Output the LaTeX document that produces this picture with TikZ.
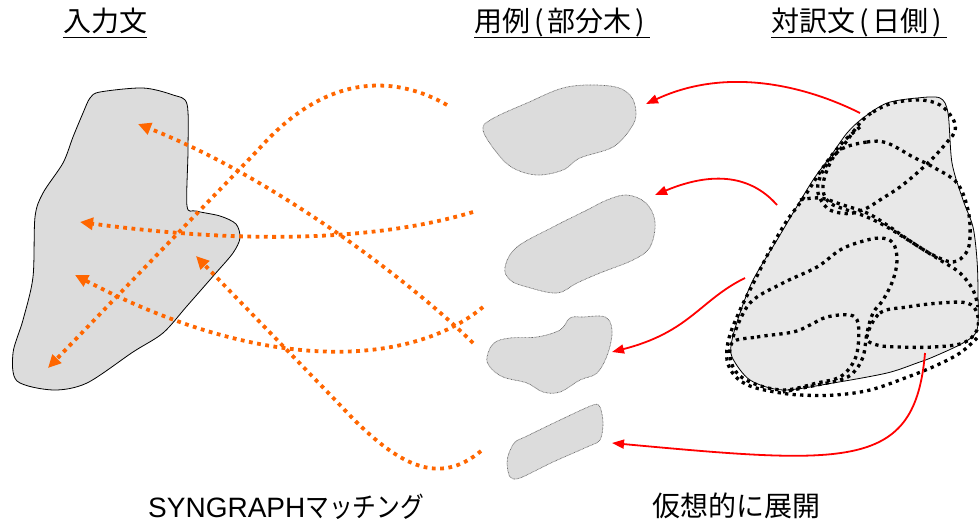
\documentclass[tikz,border=0pt]{standalone}
\usepackage{fontspec}
\setmainfont{Liberation Sans}
\newfontfamily\jp{Noto Sans CJK JP}
\newfontfamily\jpn[FakeStretch=0.85]{Noto Sans CJK JP}
\usetikzlibrary{arrows.meta}
\definecolor{orng}{RGB}{255,102,0}
\definecolor{blobgray}{RGB}{220,220,220}
\definecolor{rblob}{RGB}{232,232,232}
\begin{document}
\begin{tikzpicture}[x=1pt,y=-1pt,
  title/.style={inner sep=0pt, anchor=base, font=\jp\fontsize{28}{30}\selectfont},
  label/.style={inner sep=0pt, anchor=base west, font=\fontsize{28}{30}\selectfont},
  uline/.style={line width=1.8pt},
  lblob/.style={fill=blobgray, draw=black, line width=0.8pt},
  mblob/.style={fill=blobgray, draw=black!60, line width=0.7pt, dash pattern=on 0.7pt off 0.7pt},
  rblobst/.style={fill=rblob, draw=black, line width=0.8pt},
  bdot/.style={draw=black, line width=3.3pt, dash pattern=on 3.3pt off 4.2pt},
  oarrow/.style={draw=orng, line width=3.8pt, dash pattern=on 3.8pt off 4.5pt,
     -{Triangle[length=13pt,width=12pt]}},
  rarrow/.style={draw=red, line width=1.8pt, -{Triangle[length=12pt,width=9pt]}},
]
\useasboundingbox (0,0) rectangle (979,524);

% titles
\node[title] (t1) at (105,32) {入力文};
\node[title] (t2) at (562,32) {用例\kern4pt(\kern4pt部分木\kern4pt)\kern4pt};
\node[title] (t3) at (859,32) {対訳文\kern4pt(\kern4pt日側\kern4pt)\kern4pt};
\foreach \t in {t1,t2,t3}
  \draw[uline] ([yshift=-5.5pt]\t.base west) -- ([yshift=-5.5pt]\t.base east);

% bottom labels
\node[label] (l1) at (148,517) {SYNGRAPH{\jpn マッチング}};
\node[label] (l2) at (652,516) {\jp 仮想的に展開};

% left blob (input sentence)
\draw[lblob] plot[smooth cycle, tension=0.5] coordinates {
 (90,98) (100,92) (143,88) (173,95) (187,104) (188,150) (187,206) (196,211)
 (220,216) (236,224) (240,238) (233,253) (215,274) (187,306) (163,333)
 (133,352) (87,383) (53,390) (17,381) (13,353) (23,320) (33,277) (35,217)
 (43,193) (63,163) (73,137) (83,113)};

% middle blobs (examples)
\draw[mblob] plot[smooth cycle, tension=0.6] coordinates {
 (483,130) (492,119) (527,103) (567,87) (610,86) (630,95) (636,113) (631,128)
 (613,147) (580,158) (563,170) (537,175) (513,168) (497,153)};
\draw[mblob] plot[smooth cycle, tension=0.6] coordinates {
 (505,267) (517,247) (553,227) (587,210) (607,200) (627,195) (646,203) (655,222)
 (650,247) (633,260) (600,273) (577,283) (557,293) (527,287) (510,280)};
\draw[mblob] plot[smooth cycle, tension=0.6] coordinates {
 (487,357) (494,343) (510,338) (537,337) (560,330) (570,318) (583,317) (605,317)
 (612,330) (608,353) (597,373) (580,380) (560,392) (543,392) (527,383) (503,377) (490,367)};
\draw[mblob] plot[smooth cycle, tension=0.5] coordinates {
 (509,453) (515,442) (527,436) (560,420) (593,405) (600,407) (603,423) (600,440)
 (587,447) (553,462) (520,478) (510,477) (507,463)};

% right blob (translation)
\draw[rblobst] plot[smooth cycle, tension=0.5] coordinates {
 (863,118) (887,103) (917,98) (940,98) (948,113) (952,163) (963,200) (973,227)
 (977,260) (978,293) (977,330) (963,343) (933,357) (917,363) (887,373) (833,383)
 (783,390) (750,380) (732,357) (732,340) (740,313) (753,280) (777,240) (793,213)
 (813,180) (830,157) (847,133)};

% dotted subtree regions
\draw[bdot] plot[smooth cycle, tension=0.6] coordinates {
 (860,123) (873,112) (893,103) (920,100) (940,105) (953,119) (955,131) (948,141)
 (933,158) (917,173) (900,187) (883,198) (867,208) (853,213) (840,213) (827,208)
 (818,193) (820,177) (830,160) (843,146)};
\draw[bdot] plot[smooth cycle, tension=0.6] coordinates {
 (840,150) (867,142) (887,143) (913,157) (933,167) (957,183) (968,210) (970,237)
 (966,253) (953,262) (933,255) (913,243) (887,227) (867,217) (847,210) (830,203)
 (823,190) (827,170)};
\draw[bdot] plot[smooth, tension=0.6] coordinates {
 (800,200) (820,198) (843,205) (867,213) (887,225) (913,243) (940,260) (960,273)
 (973,290) (978,307)};
\draw[bdot] plot[smooth, tension=0.6] coordinates {
 (733,337) (750,303) (783,283) (817,267) (840,250) (860,242) (880,238) (893,243)
 (897,260) (893,280) (883,300) (873,313) (867,333) (863,357) (853,373) (840,380)
 (817,385) (783,392)};
\draw[bdot] plot[smooth cycle, tension=0.6] coordinates {
 (732,343) (757,337) (793,332) (810,325) (827,317) (850,315) (858,323) (858,347)
 (853,363) (840,377) (817,383) (783,390) (750,382) (733,367)};
\draw[bdot] plot[smooth cycle, tension=0.6] coordinates {
 (867,337) (880,313) (907,307) (940,303) (967,303) (977,313) (977,330) (963,343)
 (933,347) (900,347) (877,345)};
\draw[bdot] plot[smooth, tension=0.6] coordinates {
 (860,127) (845,140) (832,155) (820,172) (810,188) (800,203) (786,222) (770,250)
 (755,280) (740,310) (729,338) (727,360) (735,376) (750,386) (775,392) (800,395)
 (835,395) (870,390) (905,378) (935,366) (960,353) (977,338)};

% orange matching arrows
\coordinate (oAs) at (447,105);  \coordinate (oAe) at (48,368);
\coordinate (oBs) at (473,343);  \coordinate (oBe) at (138,124);
\coordinate (oCs) at (473,212);  \coordinate (oCe) at (80,222);
\coordinate (oDs) at (483,307);  \coordinate (oDe) at (75,275);
\coordinate (oEs) at (481,451);  \coordinate (oEe) at (196,256);
\draw[oarrow] (oAs) .. controls (400,78) and (330,68) .. (258,150) -- (oAe);
\draw[oarrow] (oBs) .. controls (420,290) and (280,180) .. (oBe);
\draw[oarrow] (oCs) .. controls (380,240) and (250,245) .. (oCe);
\draw[oarrow] (oDs) .. controls (420,360) and (280,382) .. (oDe);
\draw[oarrow] (oEs) .. controls (440,485) and (400,470) .. (340,405) -- (oEe);

% red expansion arrows
\coordinate (r1s) at (860,113); \coordinate (r1e) at (646,104);
\coordinate (r2s) at (777,205); \coordinate (r2e) at (655,195);
\coordinate (r3s) at (745,278); \coordinate (r3e) at (612,352);
\coordinate (r4s) at (925,353); \coordinate (r4e) at (612,443);
\draw[rarrow] (r1s) .. controls (810,88) and (730,65) .. (r1e);
\draw[rarrow] (r2s) .. controls (755,180) and (720,168) .. (r2e);
\draw[rarrow] (r3s) .. controls (700,300) and (690,332) .. (r3e);
\draw[rarrow] (r4s) .. controls (915,470) and (850,465) .. (r4e);
\end{tikzpicture}
\end{document}
